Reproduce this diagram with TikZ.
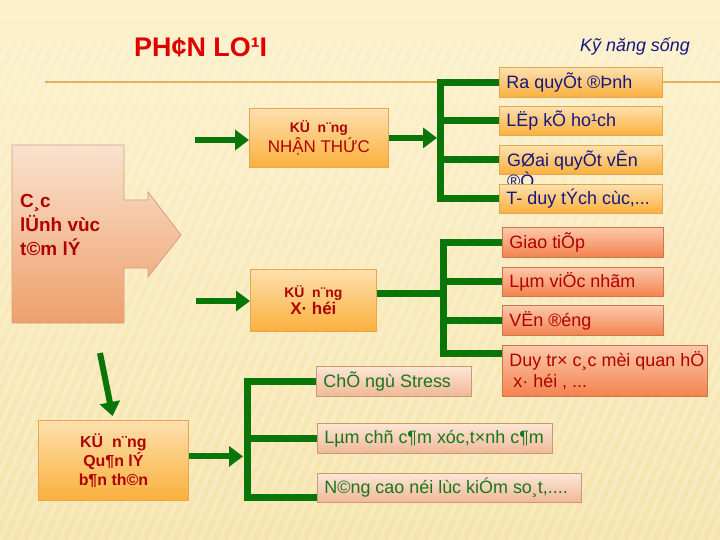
\documentclass[tikz,border=0pt]{standalone}
\usepackage{fontspec}
\setmainfont{Liberation Sans}
\usetikzlibrary{arrows.meta}
\definecolor{bgtop}{RGB}{252,241,204}
\definecolor{bgbot}{RGB}{246,228,172}
\definecolor{goldline}{RGB}{226,178,96}
\definecolor{titlered}{RGB}{224,0,0}
\definecolor{navy}{RGB}{22,22,130}
\definecolor{dred}{RGB}{176,0,0}
\definecolor{gtext}{RGB}{26,118,26}
\definecolor{gcol}{RGB}{10,118,10}
\definecolor{otop}{RGB}{253,224,174}
\definecolor{obot}{RGB}{251,176,60}
\definecolor{oborder}{RGB}{228,166,80}
\definecolor{stop}{RGB}{252,200,170}
\definecolor{sbot}{RGB}{243,130,78}
\definecolor{sborder}{RGB}{200,120,74}
\definecolor{ptop}{RGB}{252,230,212}
\definecolor{pbot}{RGB}{240,184,152}
\definecolor{pborder}{RGB}{200,152,120}
\definecolor{atop}{RGB}{249,226,206}
\definecolor{abot}{RGB}{238,160,108}
\definecolor{aborder}{RGB}{210,160,128}
\newcommand\myfs[2]{\fontsize{#1}{#2}\selectfont}
\newcommand\lft[2]{\makebox[#1][l]{#2}}
\begin{document}
\begin{tikzpicture}[x=1bp,y=-1bp,
  boxbase/.style={anchor=north west, line width=0.8bp, inner xsep=7bp, inner ysep=0pt, align=left, font=\myfs{18}{21}},
  obox/.style={boxbase, draw=oborder, top color=otop, bottom color=obot, text=navy},
  sbox/.style={boxbase, draw=sborder, top color=stop, bottom color=sbot, text=dred},
  pbox/.style={boxbase, draw=pborder, top color=ptop, bottom color=pbot, text=gtext},
  mbox/.style={anchor=north west, line width=0.8bp, draw=oborder, top color=otop, bottom color=obot, text=dred, align=center, inner sep=0pt},
  gline/.style={draw=gcol, line width=7bp, line join=miter},
  garrow/.style={draw=gcol, line width=6bp, -{Triangle[length=14bp,width=20bp]}},
]
\useasboundingbox (0,0) rectangle (720,540);
\shade[top color=bgtop, bottom color=bgbot] (0,0) rectangle (720,540);
\begin{scope}
  \clip (0,40) rectangle (720,540);
  \foreach \i in {-30,...,75} {
    \draw[white, opacity=0.22, line width=4bp] (\i*10,540) -- (\i*10+220,40);
  }
\end{scope}
\draw[goldline, line width=1.8bp] (45,82) -- (720,82);

% title
\node[anchor=base west, font=\myfs{27}{32}\bfseries, text=titlered, inner sep=0pt] (title) at (134,57) {PH¢N LO¹I};
\node[anchor=base west, font=\myfs{18}{21}\itshape, text=navy, inner sep=0pt] (kns) at (580,52) {Kỹ năng sống};

% big block arrow
\path[draw=aborder, line width=0.8bp, top color=atop, bottom color=abot]
  (12,145) -- (124,145) -- (124,200) -- (148,200) -- (148,192) -- (181,235)
  -- (148,277) -- (148,268) -- (124,268) -- (124,323) -- (12,323) -- cycle;
\node[anchor=north west, align=left, font=\myfs{19}{24}\bfseries, text=dred, inner sep=0pt] (linhvuc) at (20,194) {C¸c\\lÜnh vùc\\t©m lÝ};

% middle boxes
\node[mbox, minimum width=139bp, minimum height=59bp] (nt) at (249,108)
  {{\myfs{14}{16}\bfseries KÜ\ \ n¨ng}\\[1bp]{\myfs{17}{19}\selectfont NHẬN THỨC}};
\node[mbox, minimum width=126bp, minimum height=62bp] (xh) at (250,269)
  {{\myfs{14}{16}\bfseries KÜ\ \ n¨ng}\\[1bp]{\myfs{17}{19}\bfseries X· héi}};
\node[mbox, minimum width=150bp, minimum height=80bp, font=\myfs{16}{19}\bfseries] (qb) at (38,420)
  {KÜ\ \ n¨ng\\Qu¶n lÝ\\b¶n th©n};

% top group (blue)
\node[obox, minimum height=30bp] (ra) at (499,67) {\lft{149bp}{Ra quyÕt ®Þnh}};
\node[obox, minimum height=29bp] (lk) at (499,106) {\lft{149bp}{LËp kÕ ho¹ch}};
\node[obox, minimum height=29bp] (gq) at (499,145) {\lft{149bp}{}};
\node[anchor=base west, font=\myfs{18}{21}, text=navy, inner sep=0pt] (gqa) at (507,167) {GØai quyÕt vÊn};
\node[anchor=base west, font=\myfs{18}{21}, text=navy, inner sep=0pt] (gqb) at (507,188) {®Ò};
\node[obox, minimum height=29bp] (td) at (499,184) {\lft{149bp}{T- duy tÝch cùc,...}};

% social group (red)
\node[sbox, minimum height=30bp] (gt) at (502,227) {\lft{147bp}{Giao tiÕp}};
\node[sbox, minimum height=29bp] (lv) at (502,267) {\lft{147bp}{Lµm viÖc nhãm}};
\node[sbox, minimum height=30bp] (vd) at (502,305) {\lft{147bp}{VËn ®éng}};
\node[sbox, minimum height=51bp] (dt) at (502,345) {\lft{191bp}{Duy tr× c¸c mèi quan hÖ}\\\lft{191bp}{\hspace*{4bp}x· héi , ...}};

% self management group (green)
\node[pbox, minimum height=30bp] (cs) at (316,366) {\lft{141bp}{ChÕ ngù Stress}};
\node[pbox, minimum height=30bp] (lc) at (317,423) {\lft{221bp}{Lµm chñ c¶m xóc,t×nh c¶m}};
\node[pbox, minimum height=29bp] (nc) at (317,473) {\lft{250bp}{N©ng cao néi lùc kiÓm so¸t,....}};

% bus coordinates
\coordinate (b1) at (440,0);
\coordinate (b2) at (443,0);
\coordinate (b3) at (247,0);
\coordinate (in1) at (195,140);
\coordinate (in2) at (196,301);
\coordinate (in3) at (100,353);
\coordinate (dtb) at ([yshift=17bp]dt.west);
\coordinate (xhb) at ([yshift=7bp]xh.east);
\coordinate (ncb) at ([yshift=-10bp]nc.west);
\coordinate (qbb) at ([yshift=4bp]qb.east);

% connectors top group
\draw[gline] (ra.west) -- (ra.west -| b1) -- (td.west -| b1) -- (td.west);
\draw[gline] (lk.west) -- (lk.west -| b1);
\draw[gline] (gq.west) -- (gq.west -| b1);
\draw[garrow, shorten >=3bp] (nt.east) -- (nt.east -| b1);
\draw[garrow] (in1) -- (in1 -| nt.west);

% connectors social group
\draw[gline] (gt.west) -- (gt.west -| b2) -- (dtb -| b2) -- (dtb);
\draw[gline] (lv.west) -- (lv.west -| b2);
\draw[gline] (vd.west) -- (vd.west -| b2);
\draw[gline] (xhb) -- (xhb -| b2);
\draw[garrow] (in2) -- (in2 -| xh.west);

% connectors self group
\draw[gline] (cs.west) -- (cs.west -| b3) -- (ncb -| b3) -- (ncb);
\draw[gline] (lc.west) -- (lc.west -| b3);
\draw[garrow, shorten >=4bp] (qbb) -- (qbb -| b3);
\draw[garrow, shorten >=4bp] (in3) -- (qb.north);
\end{tikzpicture}
\end{document}
